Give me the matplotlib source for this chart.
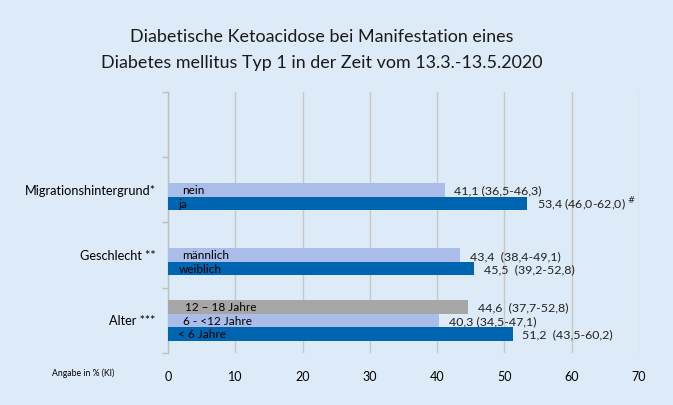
import numpy as np
import matplotlib.pyplot as plt

plt.rcParams['font.family'] = ['Lato', 'DejaVu Sans']

title = "Diabetische Ketoacidose bei Manifestation eines\nDiabetes mellitus Typ 1 in der Zeit vom 13.3.-13.5.2020"
categories = ["Alter ***", "Geschlecht **", "Migrationshintergrund*"]
ticks = [0, 10, 20, 30, 40, 50, 60, 70]

# three series per group, top to bottom: grey, light blue, dark blue
grey_vals = [44.6, np.nan, np.nan]
grey_names = ["12 \u2013 18 Jahre", "", ""]
grey_ci = ["44,6  (37,7-52,8)", "", ""]

light_vals = [40.3, 43.4, 41.1]
light_names = ["6 - <12 Jahre", "männlich", "nein"]
light_ci = ["40,3 (34,5-47,1)", "43,4  (38,4-49,1)", "41,1 (36,5-46,3)"]

dark_vals = [51.2, 45.5, 53.4]
dark_names = ["< 6 Jahre", "weiblich", "ja"]
dark_ci = ["51,2  (43,5-60,2)", "45,5  (39,2-52,8)", "53,4 (46,0-62,0) $^{\\#}$"]

bg = '#DDEAF7'
fig = plt.figure(figsize=(6.73, 4.05), dpi=100, facecolor=bg)
ax = fig.add_axes([168/673, 1-353/405, 471/673, 261/405])
ax.set_facecolor(bg)

h = 0.207
y = np.arange(len(categories)) + 0.5
series = [
    (grey_vals, grey_names, grey_ci, '#A6A6A6', h, 12),
    (light_vals, light_names, light_ci, '#AABCE8', 0, 10.5),
    (dark_vals, dark_names, dark_ci, '#0065B1', -h, 7.5),
]
for vals, names, cis, col, off, name_dx in series:
    ax.barh(y + off, vals, height=h, color=col, zorder=3)
    for yi, v, nm, ci in zip(y + off, vals, names, cis):
        if np.isnan(v):
            continue
        ax.annotate(nm, (0, yi), xytext=(name_dx, -0.5), textcoords='offset points',
                    ha='left', va='center', fontsize=8.5, color='black', zorder=4)
        ax.annotate(ci, (v, yi), xytext=(7, -1), textcoords='offset points',
                    ha='left', va='center', fontsize=8.9, color='#222222')

ax.set_xlim(0, 70)
ax.set_ylim(0, 4)
ax.set_xticks(ticks)
ax.set_xticklabels([str(t) for t in ticks], fontsize=9)
ax.tick_params(axis='x', length=0, pad=13)
ax.set_yticks(y)
ax.set_yticklabels(categories, fontsize=9.2)
ax.tick_params(axis='y', length=0, pad=9)
ax.set_yticks(np.arange(5), minor=True)
ax.tick_params(axis='y', which='minor', length=4, color='#BFBFBF', width=1)
ax.grid(axis='x', color='#C8C8C8', linewidth=1, zorder=0)
for s in ['top', 'right', 'bottom']:
    ax.spines[s].set_visible(False)
ax.spines['left'].set_color('#BFBFBF')
ax.spines['left'].set_linewidth(1)

fig.text(83/673, 1-373/405, "Angabe in % (KI)", fontsize=6.2, ha='center', va='center')
fig.text(322/673, 1-50/405, title, fontsize=12.9, ha='center', va='center',
         linespacing=1.7, color='#1a1a1a')

fig.savefig('out.png', dpi=100, facecolor=bg)
